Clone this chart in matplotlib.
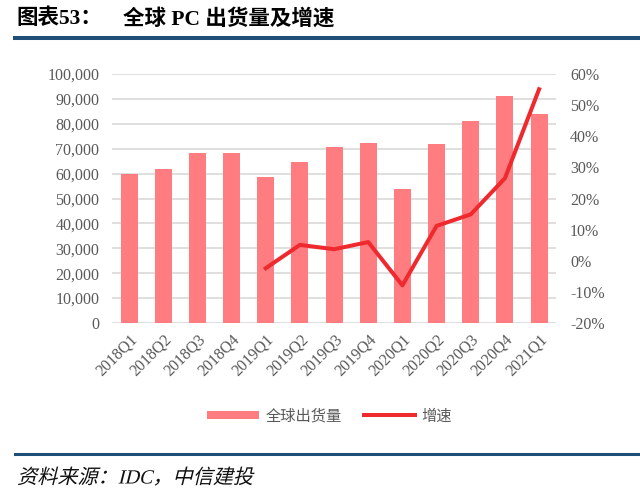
import matplotlib.pyplot as plt
import matplotlib.ticker as mtick
from matplotlib.lines import Line2D
from matplotlib.textpath import TextPath
from matplotlib.patches import PathPatch
from matplotlib.font_manager import FontProperties
from matplotlib.transforms import Affine2D

plt.rcParams['font.family'] = ['Liberation Serif', 'Noto Sans CJK SC', 'DejaVu Sans']

quarters = ['2018Q1', '2018Q2', '2018Q3', '2018Q4', '2019Q1', '2019Q2', '2019Q3',
            '2019Q4', '2020Q1', '2020Q2', '2020Q3', '2020Q4', '2021Q1']
shipments = [60000, 61700, 68100, 68300, 58800, 64800, 70600,
             72400, 53800, 72000, 81000, 91300, 83800]
growth_q = quarters[4:]
growth = [-2.4, 5.1, 3.7, 6.0, -7.9, 11.2, 14.9, 26.5, 55.1]

bar_color = '#FF7C80'
line_color = '#EE2A2E'
tick_color = '#595959'
serif_cjk = ['Liberation Serif', 'Noto Sans CJK SC', 'DejaVu Sans']

fig = plt.figure(figsize=(6.4, 4.98), dpi=100)

# title and rules
fig.text(0.026, 0.962, '图表53：', fontsize=15.5, fontweight='bold', family=serif_cjk, va='center')
fig.text(0.192, 0.962, '全球 PC 出货量及增速', fontsize=15.5, fontweight='bold', family=serif_cjk, va='center')
fig.add_artist(Line2D([0.023, 1.0], [0.923, 0.923], color='#1F4E79', lw=2.9))
fig.add_artist(Line2D([0.023, 1.0], [0.088, 0.088], color='#1F4E79', lw=2.2))

# source note, slanted like the original
src = TextPath((0, 0), '资料来源：IDC，中信建投', size=14.5, prop=FontProperties(family=serif_cjk))
tr = Affine2D().skew_deg(14, 0).scale(1 / 72).translate(0.17, 0.145) + fig.dpi_scale_trans
fig.add_artist(PathPatch(src, transform=tr, color='#111111', lw=0))

ax = fig.add_axes([0.175, 0.3514, 0.694, 0.50])
x = list(range(len(quarters)))
ax.bar(x, shipments, width=0.5, color=bar_color, zorder=2, label='全球出货量')
ax.set_xlim(-0.5, len(quarters) - 0.5)
ax.set_ylim(0, 100000)
ax.set_yticks(range(0, 100001, 10000))
ax.yaxis.set_major_formatter(mtick.FuncFormatter(lambda v, p: f'{int(v):,}'))
ax.grid(axis='y', color='#D9D9D9', lw=1.2, zorder=0)
for s in ax.spines.values():
    s.set_visible(False)
ax.tick_params(axis='both', length=0, colors=tick_color, labelsize=11.5)
ax.tick_params(axis='y', pad=9)
ax.set_xticks(x)
ax.set_xticklabels(quarters, rotation=45, ha='right', rotation_mode='anchor')
ax.tick_params(axis='x', pad=6)

ax2 = ax.twinx()
gx = [quarters.index(q) for q in growth_q]
ax2.plot(gx, growth, color=line_color, lw=2.9, zorder=3, label='增速')
ax2.set_ylim(-20, 60)
ax2.set_yticks(range(-20, 61, 10))
ax2.yaxis.set_major_formatter(mtick.FuncFormatter(lambda v, p: f'{int(v)}%'))
for s in ax2.spines.values():
    s.set_visible(False)
ax2.tick_params(axis='y', length=0, colors=tick_color, labelsize=11.5, pad=10)

h1, l1 = ax.get_legend_handles_labels()
h2, l2 = ax2.get_legend_handles_labels()
leg = fig.legend(h1 + h2, l1 + l2, loc='center', bbox_to_anchor=(0.515, 0.165), ncol=2,
                 frameon=False, handlelength=3.4, handleheight=0.5, handletextpad=0.4,
                 columnspacing=1.45,
                 prop={'family': ['Noto Sans CJK SC', 'DejaVu Sans'], 'size': 11})
for t in leg.get_texts():
    t.set_color(tick_color)

fig.savefig('out.png', dpi=100)
